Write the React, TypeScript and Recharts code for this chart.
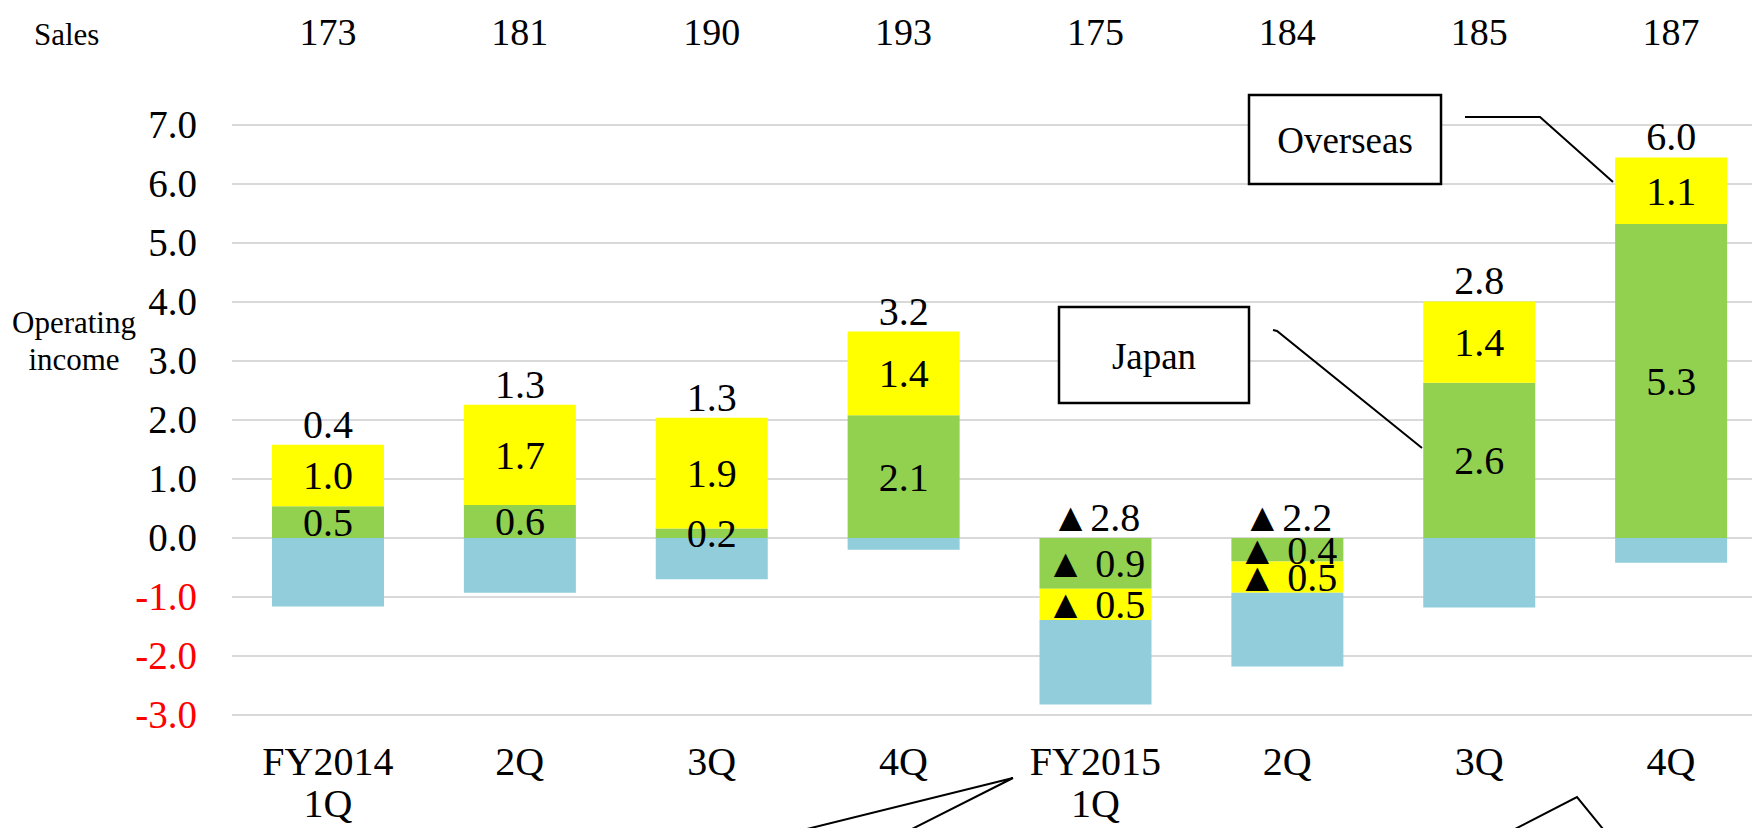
import React from 'react';
import { BarChart, Bar, XAxis, YAxis, CartesianGrid, LabelList } from 'recharts';

// quarterly operating income by segment (billion yen)
const quarters = ['FY2014\n1Q', '2Q', '3Q', '4Q', 'FY2015\n1Q', '2Q', '3Q', '4Q'];
const sales = [173, 181, 190, 193, 175, 184, 185, 187];
const japan = [0.54, 0.56, 0.16, 2.08, -0.86, -0.4, 2.63, 5.32];
const overseas = [1.04, 1.7, 1.88, 1.42, -0.53, -0.53, 1.38, 1.13];
const elimination = [-1.16, -0.93, -0.7, -0.2, -1.43, -1.25, -1.18, -0.42];
const totals = [0.4, 1.3, 1.3, 3.2, -2.8, -2.2, 2.8, 6.0];
const yTicks = [-3, -2, -1, 0, 1, 2, 3, 4, 5, 6, 7];

const FONT = "'Times New Roman', 'Liberation Serif', serif";

const data = quarters.map((q, i) => ({
  name: q,
  japan: japan[i],
  overseas: overseas[i],
  elim: elimination[i],
  total: totals[i],
}));

const fmt = (v: number, gap: string) =>
  v < 0 ? `▲${gap}${Math.abs(v).toFixed(1)}` : v.toFixed(1);

const SegmentLabel = (props: any) => {
  const { x, y, width, height, value } = props;
  if (value == null) return null;
  return (
    <text
      x={x + width / 2}
      y={y + height / 2}
      dy="0.35em"
      textAnchor="middle"
      fontSize={40}
      fill="#000"
      style={{ fontFamily: FONT }}
    >
      {fmt(Number(value), ' ')}
    </text>
  );
};

// total sits above the top of the stack: the yellow top when positive, the zero line when negative
const makeTotalLabel = (positive: boolean) => (props: any) => {
  const { x, y, width, height, value } = props;
  if (value == null) return null;
  const v = Number(value);
  if ((v >= 0) !== positive) return null;
  const top = Math.min(y, y + height);
  return (
    <text x={x + width / 2} y={top - 7} textAnchor="middle" fontSize={40} fill="#000" style={{ fontFamily: FONT }}>
      {fmt(v, '')}
    </text>
  );
};

const YTick = (props: any) => {
  const { x, y, payload } = props;
  const v = Number(payload.value);
  return (
    <text x={x} y={y} dy="0.33em" textAnchor="end" fontSize={39} fill={v < 0 ? '#ff0000' : '#000'} style={{ fontFamily: FONT }}>
      {v.toFixed(1)}
    </text>
  );
};

const QuarterTick = (props: any) => {
  const { x, payload } = props;
  const lines = String(payload.value).split('\n');
  return (
    <g>
      {lines.map((line, i) => (
        <text key={i} x={x} y={775 + i * 42} textAnchor="middle" fontSize={40} fill="#000" style={{ fontFamily: FONT }}>
          {line}
        </text>
      ))}
    </g>
  );
};

const SalesTick = (props: any) => {
  const { x, index } = props;
  return (
    <text x={x} y={45} textAnchor="middle" fontSize={38} fill="#000" style={{ fontFamily: FONT }}>
      {sales[index]}
    </text>
  );
};

export default function App() {
  return (
    <div style={{ position: 'absolute', left: 0, top: 0, width: 1752, height: 828, overflow: 'hidden', background: '#fff' }}>
      <BarChart
        width={1767}
        height={828}
        data={data}
        stackOffset="sign"
        margin={{ top: 0, right: 0, bottom: 0, left: 0 }}
        barSize={112}
      >
        <CartesianGrid vertical={false} stroke="#d9d9d9" strokeWidth={2} />
        <XAxis
          xAxisId="top"
          orientation="top"
          dataKey="name"
          height={125}
          axisLine={false}
          tickLine={false}
          tickSize={0}
          interval={0}
          tick={<SalesTick />}
        />
        <XAxis
          dataKey="name"
          height={113}
          axisLine={false}
          tickLine={false}
          tickSize={0}
          interval={0}
          tick={<QuarterTick />}
        />
        <YAxis
          width={232}
          domain={[-3, 7]}
          ticks={yTicks}
          interval={0}
          axisLine={false}
          tickLine={false}
          tickSize={0}
          tickMargin={35}
          tick={<YTick />}
        />
        <Bar dataKey="japan" stackId="a" fill="#92d050" isAnimationActive={false}>
          <LabelList dataKey="japan" content={SegmentLabel} />
          <LabelList dataKey="total" content={makeTotalLabel(false)} />
        </Bar>
        <Bar dataKey="overseas" stackId="a" fill="#ffff00" isAnimationActive={false}>
          <LabelList dataKey="overseas" content={SegmentLabel} />
          <LabelList dataKey="total" content={makeTotalLabel(true)} />
        </Bar>
        <Bar dataKey="elim" stackId="a" fill="#92cddc" isAnimationActive={false} />
      </BarChart>

      {/* callouts and side captions */}
      <svg
        width={1752}
        height={828}
        style={{ position: 'absolute', left: 0, top: 0, pointerEvents: 'none', fontFamily: FONT }}
      >
        <text x={34} y={45} fontSize={31}>Sales</text>
        <text x={74} y={333} fontSize={31} textAnchor="middle">Operating</text>
        <text x={74} y={370} fontSize={31} textAnchor="middle">income</text>

        <rect x={1249} y={95} width={192} height={89} fill="#fff" stroke="#000" strokeWidth={2.5} />
        <text x={1345} y={153} fontSize={37} textAnchor="middle">Overseas</text>
        <polyline points="1465,117 1540,117 1613,182" fill="none" stroke="#000" strokeWidth={2} />

        <rect x={1059} y={307} width={190} height={96} fill="#fff" stroke="#000" strokeWidth={2.5} />
        <text x={1154} y={369} fontSize={37} textAnchor="middle">Japan</text>
        <polyline points="1273,330 1277,331 1422,448" fill="none" stroke="#000" strokeWidth={2} />

        <polyline points="807,829 1013,778 912,829" fill="none" stroke="#000" strokeWidth={2} />
        <polyline points="1515,829 1577,797 1603,829" fill="none" stroke="#000" strokeWidth={2} />
      </svg>
    </div>
  );
}
